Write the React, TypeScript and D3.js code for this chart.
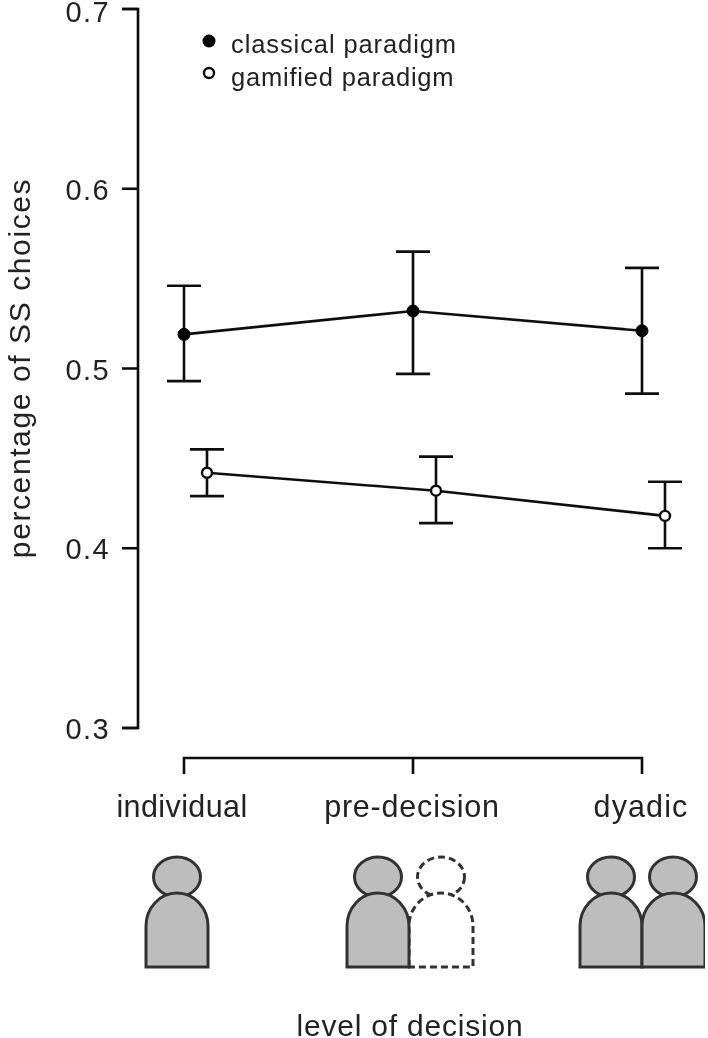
import React from "react";
import * as d3 from "d3";

const categories = ["individual", "pre-decision", "dyadic"];
const classicalMean = [0.519, 0.532, 0.521];
const classicalLow = [0.493, 0.497, 0.486];
const classicalHigh = [0.546, 0.565, 0.556];
const gamifiedMean = [0.442, 0.432, 0.418];
const gamifiedLow = [0.429, 0.414, 0.400];
const gamifiedHigh = [0.455, 0.451, 0.437];
const yTicks = [0.3, 0.4, 0.5, 0.6, 0.7];

const W = 708, H = 1038;
const y = d3.scaleLinear().domain([0.3, 0.7]).range([728, 9]);
const x = d3.scalePoint<string>().domain(categories).range([184, 642]);
const GAM_OFFSET = 23;
const INK = "#111";
const TXT = "#222";

function bodyPath(x0: number, x1: number) {
  const top = 893, bottom = 967;
  const rx = (x1 - x0) / 2, ry = 33;
  return `M${x0},${bottom}L${x0},${top + ry}A${rx},${ry} 0 0 1 ${x1},${top + ry}L${x1},${bottom}Z`;
}

function Person({ cx, x0, x1, dashed }: { cx: number; x0: number; x1: number; dashed?: boolean }) {
  const common = dashed
    ? { fill: "#fff", stroke: "#333", strokeWidth: 3, strokeDasharray: "7 4" }
    : { fill: "#bdbdbd", stroke: "#333", strokeWidth: 3 };
  return (
    <g>
      <ellipse cx={cx} cy={877} rx={23.5} ry={20} {...common} />
      <path d={bodyPath(x0, x1)} {...common} />
    </g>
  );
}

function ErrorSeries({ mean, low, high, offset, open }: { mean: number[]; low: number[]; high: number[]; offset: number; open: boolean }) {
  const px = (i: number) => (x(categories[i]) as number) + offset;
  const line = d3.line<number>().x((_, i) => px(i)).y((d) => y(d));
  const cap = 17;
  return (
    <g stroke={INK} strokeWidth={2.6} fill="none">
      <path d={line(mean) as string} />
      {mean.map((m, i) => (
        <g key={i}>
          <line x1={px(i)} x2={px(i)} y1={y(low[i])} y2={y(high[i])} />
          <line x1={px(i) - cap} x2={px(i) + cap} y1={y(low[i])} y2={y(low[i])} />
          <line x1={px(i) - cap} x2={px(i) + cap} y1={y(high[i])} y2={y(high[i])} />
          <circle cx={px(i)} cy={y(m)} r={open ? 5 : 6} fill={open ? "#fff" : "#000"} stroke={open ? "#111" : "#000"} strokeWidth={open ? 2.4 : 1} />
        </g>
      ))}
    </g>
  );
}

export default function App() {
  const font = "'Liberation Sans', Arial, sans-serif";
  const xLabelX = [182, 412, 641];
  const xLabelSpacing = [0.4, 0.8, 1.1];
  return (
    <svg width={W} height={H} viewBox={`0 0 ${W} ${H}`} style={{ position: "absolute", left: 0, top: 0, background: "#fff" }} fontFamily={font}>
      <defs>
        <filter id="soft" x="0" y="0" width="100%" height="100%">
          <feGaussianBlur stdDeviation="0.5" />
        </filter>
      </defs>
      <g filter="url(#soft)">
        <path d={`M122,${y(0.7)}H138V${y(0.3)}H122`} fill="none" stroke={INK} strokeWidth={2.6} />
        {yTicks.map((t) => (
          <g key={t}>
            <line x1={122} x2={138} y1={y(t)} y2={y(t)} stroke={INK} strokeWidth={2.6} />
            <text x={110} y={y(t) + (t === 0.7 ? 13 : 11)} textAnchor="end" fontSize={29} letterSpacing={1.4} fill={TXT}>{t.toFixed(1)}</text>
          </g>
        ))}
        <text transform="translate(30,368) rotate(-90)" textAnchor="middle" fontSize={30} letterSpacing={1.6} fill={TXT}>percentage of SS choices</text>

        <path d={`M${x(categories[0])},774V758H${x(categories[2])}V774`} fill="none" stroke={INK} strokeWidth={2.6} />
        <line x1={x(categories[1])} x2={x(categories[1])} y1={758} y2={774} stroke={INK} strokeWidth={2.6} />
        {xLabelX.map((cx, i) => (
          <text key={i} x={cx} y={817} textAnchor="middle" fontSize={30.5} letterSpacing={xLabelSpacing[i]} fill={TXT}>{categories[i]}</text>
        ))}
        <text x={410} y={1036} textAnchor="middle" fontSize={30} letterSpacing={0.8} fill={TXT}>level of decision</text>

        <ErrorSeries mean={classicalMean} low={classicalLow} high={classicalHigh} offset={0} open={false} />
        <ErrorSeries mean={gamifiedMean} low={gamifiedLow} high={gamifiedHigh} offset={GAM_OFFSET} open={true} />

        <circle cx={209} cy={41} r={6.5} fill="#000" />
        <circle cx={209} cy={73} r={5} fill="#fff" stroke="#111" strokeWidth={2.4} />
        <text x={231} y={53} fontSize={25.5} letterSpacing={0.9} fill={TXT}>classical paradigm</text>
        <text x={231} y={86} fontSize={25.5} letterSpacing={0.8} fill={TXT}>gamified paradigm</text>

        <Person cx={177} x0={146} x1={208} />
        <Person cx={441} x0={409} x1={473} dashed />
        <Person cx={378} x0={347} x1={409} />
        <Person cx={611} x0={580} x1={642} />
        <Person cx={673} x0={642} x1={705} />
      </g>
    </svg>
  );
}
